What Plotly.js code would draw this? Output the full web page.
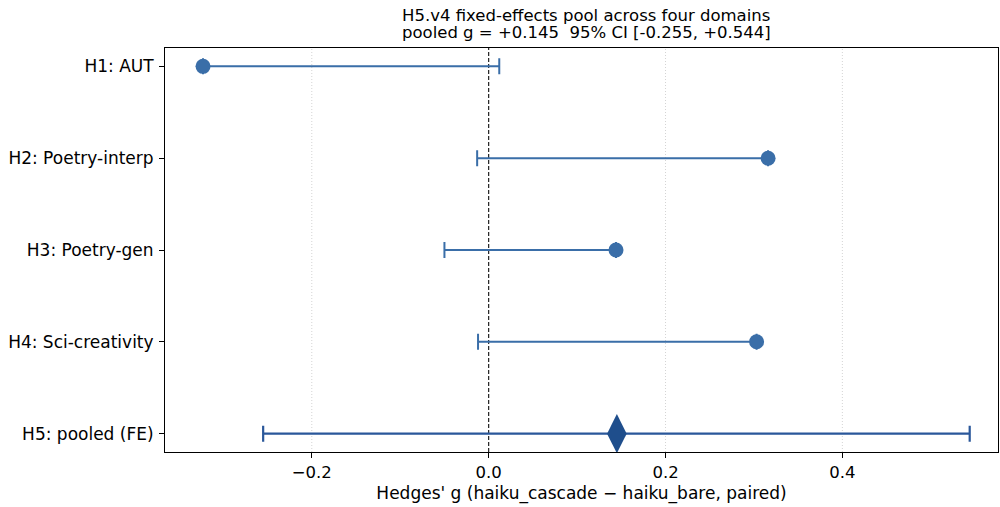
<!DOCTYPE html>
<html>
<head>
<meta charset="utf-8">
<script src="https://cdn.plot.ly/plotly-3.0.1.min.js"></script>
<style>html,body{margin:0;padding:0;background:#fff;}#chart{width:1000px;height:507px;}</style>
</head>
<body>
<div id="chart"></div>
<script>
const labels = ["H1: AUT", "H2: Poetry-interp", "H3: Poetry-gen", "H4: Sci-creativity", "H5: pooled (FE)"];
const studyG = [-0.323, 0.316, 0.144, 0.303];
const studyLo = [-0.323, -0.013, -0.050, -0.012];
const studyHi = [0.012, 0.316, 0.144, 0.303];
const pooledG = 0.145;
const pooledLo = -0.255;
const pooledHi = 0.544;
const tickVals = [-0.2, 0.0, 0.2, 0.4];
const titleLines = ["H5.v4 fixed-effects pool across four domains", "pooled g = +0.145  95% CI [-0.255, +0.544]"];

const studyY = [0, 1, 2, 3];
const traces = [
  {
    type: "scatter", mode: "markers",
    x: studyG, y: studyY,
    marker: {symbol: "circle", size: 15, color: "#3a6ea8"},
    error_x: {type: "data", symmetric: false,
      array: studyHi.map((h, i) => h - studyG[i]),
      arrayminus: studyG.map((g, i) => g - studyLo[i]),
      color: "#3a6ea8", thickness: 2, width: 8},
    hoverinfo: "skip", showlegend: false
  },
  {
    type: "scatter", mode: "markers",
    x: [pooledG], y: [4],
    marker: {symbol: "diamond-tall", size: 28, color: "#1f4e8c"},
    error_x: {type: "data", symmetric: false,
      array: [pooledHi - pooledG], arrayminus: [pooledG - pooledLo],
      color: "#2a579a", thickness: 2.2, width: 8},
    hoverinfo: "skip", showlegend: false
  }
];

const gridShapes = tickVals.filter(v => v !== 0).map(v => ({
  type: "line", xref: "x", yref: "paper", x0: v, x1: v, y0: 0, y1: 1,
  line: {color: "#d4d4d4", width: 1, dash: "1px,2px"}, layer: "below"
}));

const layout = {
  width: 1000, height: 507,
  margin: {l: 165, r: 2, t: 48, b: 55},
  paper_bgcolor: "#fff", plot_bgcolor: "#fff",
  font: {family: "DejaVu Sans, sans-serif", color: "#000"},
  xaxis: {
    range: [-0.366, 0.576],
    tickvals: tickVals, ticktext: tickVals.map(v => (v < 0 ? "\u2212" : "") + Math.abs(v).toFixed(1)),
    ticks: "outside", ticklen: 5, tickcolor: "#000", tickwidth: 1,
    tickfont: {size: 16.5},
    showgrid: false, zeroline: false,
    showline: true, linecolor: "#000", linewidth: 1, mirror: true,
    title: {text: "Hedges' g (haiku_cascade \u2212 haiku_bare, paired)", font: {size: 17}, standoff: 6}
  },
  yaxis: {
    range: [4.2, -0.2],
    tickvals: [0, 1, 2, 3, 4], ticktext: labels,
    ticks: "outside", ticklen: 5, tickcolor: "#000", tickwidth: 1,
    tickfont: {size: 17}, ticklabelstandoff: 2,
    showgrid: false, zeroline: false,
    showline: true, linecolor: "#000", linewidth: 1, mirror: true
  },
  annotations: [
    {text: titleLines[0], xref: "paper", yref: "paper", x: 0.506, y: 1, xanchor: "center", yanchor: "bottom",
     yshift: 21, showarrow: false, font: {size: 16.5, color: "#000"}},
    {text: titleLines[1], xref: "paper", yref: "paper", x: 0.506, y: 1, xanchor: "center", yanchor: "bottom",
     yshift: 4, showarrow: false, font: {size: 16.5, color: "#000"}}
  ],
  shapes: gridShapes.concat([
    {type: "line", xref: "x", yref: "paper", x0: 0, x1: 0, y0: 0, y1: 1,
     line: {color: "#222", width: 1.2, dash: "4px,2px"}, layer: "below"}
  ])
};

Plotly.newPlot("chart", traces, layout, {displayModeBar: false, staticPlot: true});
</script>
</body>
</html>
